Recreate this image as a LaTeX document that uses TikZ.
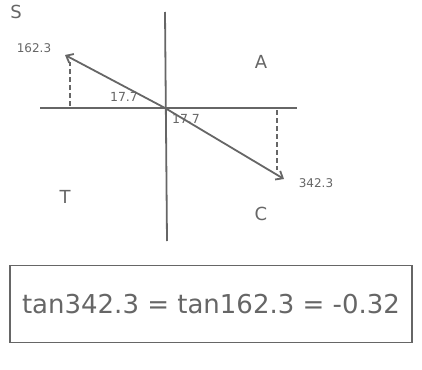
\documentclass[tikz,border=0pt]{standalone}
\usepackage{fontspec}
\setmainfont{DejaVu Sans}
\usetikzlibrary{arrows.meta}
\definecolor{pen}{gray}{0.4}
\begin{document}
\begin{tikzpicture}[x=1pt,y=-1pt,
  axis/.style={draw=pen,line width=1.8pt},
  vec/.style={draw=pen,line width=1.8pt,-{Straight Barb[length=6pt,width=10pt]}},
  drop/.style={draw=pen,line width=1.5pt,dash pattern=on 5pt off 3pt},
  lbl/.style={text=pen,inner sep=0pt,font=\fontsize{12}{14}\selectfont},
  quad/.style={text=pen,inner sep=0pt,font=\fontsize{18}{20}\selectfont},
  ang/.style={text=pen,inner sep=0pt,font=\fontsize{12.5}{14}\selectfont},
  resbox/.style={draw=pen,line width=1.6pt,minimum width=402pt,minimum height=77pt,text=pen,font=\fontsize{26}{30}\selectfont}]
\useasboundingbox (0,0) rectangle (422,369);
\coordinate (O) at (165,108);
\coordinate (top) at (165,12);
\coordinate (bot) at (167,241);
\coordinate (left) at (40,108);
\coordinate (right) at (297,108);
\coordinate (P) at (65,55);
\coordinate (Q) at (284,179);
\coordinate (Pf) at (70,106);
\coordinate (Pt) at (70,62);
\coordinate (Qf) at (277,110);
\coordinate (Qt) at (277,170);
\draw[axis] (top) -- (bot);
\draw[axis] (left) -- (right);
\draw[vec] (O) -- (P);
\draw[vec] (O) -- (Q);
\draw[drop] (Pf) -- (Pt);
\draw[drop] (Qf) -- (Qt);
\node[quad] (S) at (16,12) {S};
\node[quad] (A) at (261,62) {A};
\node[quad] (T) at (65,197) {T};
\node[quad] (C) at (261,214) {C};
\node[lbl] (l162) at (34,48) {162.3};
\node[lbl] (l342) at (316,183) {342.3};
\node[ang] (a1) at (124,97) {17.7};
\node[ang] (a2) at (186,119) {17.7};
\node[resbox] (res) at (211,304) {tan342.3 = tan162.3 = -0.32};
\end{tikzpicture}
\end{document}
